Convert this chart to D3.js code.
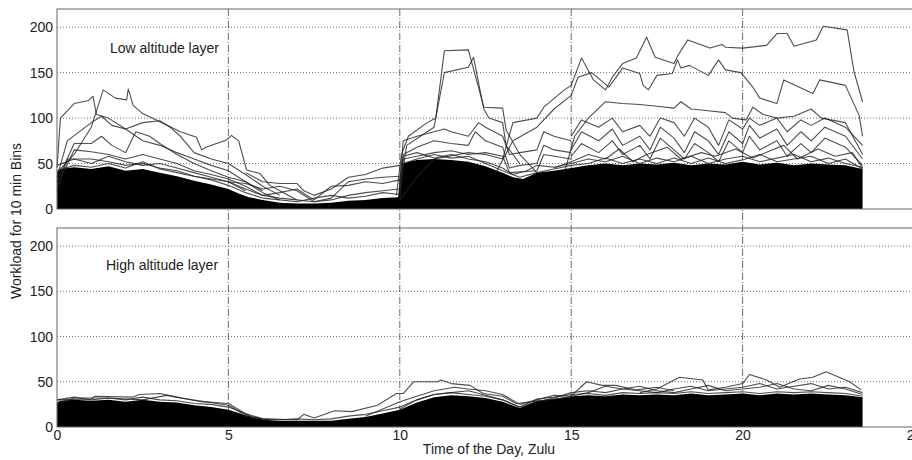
<!DOCTYPE html>
<html>
<head>
<meta charset="utf-8">
<script src="https://cdn.jsdelivr.net/npm/d3@7"></script>
<style>
  body { margin: 0; background: #fff; }
  text { font-family: "Liberation Sans", Arial, sans-serif; }
</style>
</head>
<body>
<div id="chart"></div>
<script>
'use strict'

// x ticks / y ticks
var xTicks = [0, 5, 10, 15, 20, 25]
var yTicks = [0, 50, 100, 150, 200]

// ---- low altitude layer ----
// top edge of the solid black bundle of sector curves, [hour, workload]
var lowDense = [[0,40],[0.1,44],[0.5,46],[1,44],[1.5,47],[2,42],[2.5,44],[3,40],[3.5,36],[4,31],[4.5,27],[5,22],[5.3,17],[5.6,13],[6,10],[6.5,7],[7,6],[7.5,6],[8,7],[8.5,9],[9,10],[9.5,12],[9.95,13],[10.05,50],[10.5,54],[11,55],[11.5,54],[12,52],[12.5,47],[13,40],[13.3,35],[13.6,33],[14,40],[14.5,42],[15,45],[15.5,48],[16,50],[16.5,48],[17,50],[17.5,49],[18,51],[18.5,48],[19,50],[19.5,49],[20,52],[20.5,49],[21,51],[21.5,48],[22,50],[22.5,49],[23,48],[23.5,44]]

// sector curves standing out of the bundle
var lowTop1 = [[10,10],[10.5,35],[11,55],[12,62],[12.5,60],[13,55],[13.3,95],[14,100],[14.2,112],[14.8,131],[15,136],[15.3,166],[15.65,142],[16,131],[16.2,145],[16.5,160],[16.9,166],[17.2,189],[17.45,167],[18,160],[18.1,168],[18.4,186],[19.05,177],[19.4,181],[19.5,178],[20,177],[20.7,180],[21,193],[21.3,193],[21.5,179],[22.15,186],[22.35,201],[23.05,197],[23.25,151],[23.5,118]]
var lowTop2 = [[12.8,40],[13.3,75],[14,90],[14.5,110],[15,125],[15.2,145],[15.6,150],[16.1,134],[16.5,155],[17,149],[17.1,136],[17.25,131],[17.5,147],[17.95,149],[18.1,164],[18.2,155],[18.45,158],[19,147],[19.3,164],[19.5,153],[19.95,150],[20.3,134],[20.5,122],[21,116],[21.2,142],[22.05,127],[22.25,142],[23,136],[23.4,103],[23.5,80]]
var lowTop3 = [[14.8,40],[15.1,80],[15.5,100],[16,118],[16.5,116],[17,115],[17.5,113],[18,111],[18.2,118],[18.5,110],[19,108],[19.5,106],[19.7,100],[20.1,98],[20.3,112],[20.6,104],[21,100],[21.5,102],[22,110],[22.3,100],[23,95],[23.5,60]]
var lowNoon1 = [[9.9,15],[10.05,60],[10.25,80],[10.8,95],[11.05,100],[11.3,174],[12,175],[12.45,112],[13,111],[13.1,87],[13.5,60],[14,40]]
var lowNoon2 = [[10,20],[10.2,70],[10.8,85],[11,90],[11.3,150],[12,156],[12.15,167],[12.45,110],[12.6,100],[13,95],[13.1,70],[13.5,50]]
var lowMorn1 = [[0,45],[0.1,100],[0.5,116],[0.9,119],[1.05,124],[1.15,104],[1.5,100],[2,88],[2.5,75],[3,70],[3.5,62],[4,55],[4.5,48],[5,42],[5.5,30],[6,18],[6.5,10]]
var lowMorn2 = [[0,40],[0.5,60],[1,90],[1.35,131],[1.7,122],[2.03,120],[2.08,132],[2.22,114],[2.5,105],[3,96],[3.6,85],[4.07,79],[4.22,65],[4.34,68],[4.95,76],[5.09,81],[5.3,75],[5.53,43],[5.92,39],[6.21,26],[6.5,20],[7,10]]
var lowMorn3 = [[0,35],[0.3,75],[1,95],[1.3,102],[1.6,92],[2,88],[2.5,95],[3,97],[3.3,90],[3.6,80],[4,62],[4.5,55],[5,50],[5.5,38],[6,25],[6.5,15]]
var lowMorn4 = [[0,30],[0.5,72],[1,72],[1.3,80],[1.6,70],[2,62],[2.3,85],[2.7,80],[3,72],[3.5,60],[4,50],[4.5,42],[5,35],[5.5,30],[6,20]]
var lowMorn5 = [[0,25],[0.5,65],[1,63],[1.5,60],[2,55],[2.5,60],[3,55],[3.5,50],[4,42],[4.5,38],[5,33],[5.5,25],[6,15]]
var lowMorn6 = [[0,20],[0.3,55],[1,55],[1.5,52],[2,48],[2.5,50],[3,45],[3.5,42],[4,36],[5,30],[5.5,20]]
var lowNight1 = [[5,30],[5.5,28],[6,22],[6.5,25],[7,20],[7.5,8],[8,12],[8.5,30],[9,33],[9.5,35],[10,36]]
var lowNight2 = [[5.5,40],[6,30],[6.5,28],[7,28],[7.2,20],[7.5,15],[8,22],[8.5,35],[9,38],[9.5,45],[10,48]]
var lowNight3 = [[6,15],[6.5,18],[7,22],[7.5,10],[8,25],[8.5,26],[9,30],[9.5,28],[10,32]]
var lowDay1 = [[10,30],[10.1,75],[10.5,80],[11,85],[11.3,88],[11.5,85],[12,80],[12.3,95],[12.5,90],[13,80],[13.2,60],[13.5,62],[14,65],[14.2,85],[14.5,80],[15,75]]
var lowDay2 = [[10,25],[10.1,60],[10.5,68],[11,75],[11.5,72],[12,70],[12.2,85],[12.5,75],[13,68],[13.2,45],[13.5,48],[14,50],[14.2,70],[14.5,65],[15,62]]
var lowDay3 = [[10,20],[10.1,55],[10.5,58],[11,62],[11.5,64],[12,60],[12.5,62],[13,58],[13.2,40],[14,42],[14.2,60],[15,55]]
var lowEve1 = [[15,80],[15.3,98],[15.8,90],[16.2,100],[16.5,85],[17,92],[17.3,80],[17.6,100],[18,95],[18.3,80],[18.6,100],[19,90],[19.3,70],[19.6,98],[20,88],[20.2,100],[20.5,92],[21,100],[21.3,85],[21.7,98],[22,92],[22.4,100],[23,90],[23.5,70]]
var lowEve2 = [[15,65],[15.3,85],[15.8,75],[16.2,88],[16.5,70],[17,80],[17.3,65],[17.6,90],[18,78],[18.3,62],[18.6,85],[19,75],[19.3,60],[19.6,85],[20,72],[20.2,92],[20.5,78],[21,88],[21.3,70],[21.7,85],[22,75],[22.4,90],[23,80],[23.5,55]]
var lowEve3 = [[15,58],[15.3,72],[15.8,62],[16.2,75],[16.5,60],[17,70],[17.3,55],[17.6,78],[18,65],[18.3,55],[18.6,72],[19,62],[19.3,52],[19.6,75],[20,62],[20.2,80],[20.5,65],[21,75],[21.3,58],[21.7,72],[22,62],[22.4,78],[23,68],[23.5,48]]
var lowEve4 = [[14.5,45],[15,52],[15.5,60],[16,55],[16.4,66],[16.8,52],[17.2,60],[17.8,68],[18.2,55],[18.8,62],[19.2,58],[19.8,66],[20.3,56],[20.8,64],[21.2,70],[21.6,55],[22.2,66],[22.7,58],[23.2,62],[23.5,45]]
// curves hugging the top of the bundle
var lowEdge1 = [[0,48],[0.5,55],[1,50],[1.5,58],[2,52],[2.5,48],[3,50],[3.5,45],[4,40],[4.5,35],[5,30],[5.5,22],[6,15],[6.5,12],[7,10],[7.5,8],[8,10],[8.5,15],[9,18],[9.5,20],[10,22]]
var lowEdge2 = [[0,42],[0.5,48],[1,46],[1.5,50],[2,45],[2.5,52],[3,44],[3.5,40],[4,36],[4.5,32],[5,26],[5.5,18],[6,12],[6.5,10],[7,8],[7.5,12],[8,15],[8.5,12],[9,14],[9.5,18],[10,16]]
var lowEdge3 = [[10,15],[10.1,58],[10.5,62],[11,56],[11.5,60],[12,55],[12.5,52],[13,45],[13.3,38],[13.7,42],[14,48],[14.5,46],[15,50],[15.5,55],[16,52],[16.5,58],[17,50],[17.5,56],[18,52],[18.5,58],[19,50],[19.5,55],[20,58],[20.5,52],[21,56],[21.5,60],[22,52],[22.5,56],[23,50],[23.5,46]]
var lowEdge4 = [[10,12],[10.1,50],[10.5,55],[11,60],[11.5,56],[12,58],[12.5,50],[13,42],[13.5,35],[14,40],[14.5,44],[15,48],[15.5,50],[16,56],[16.5,50],[17,55],[17.5,50],[18,56],[18.5,50],[19,56],[19.5,50],[20,54],[20.5,60],[21,52],[21.5,55],[22,58],[22.5,50],[23,55],[23.5,44]]

// ---- high altitude layer ----
var highDense = [[0,27],[0.1,29],[0.5,30],[1,29],[1.5,30],[2,28],[2.5,30],[3,28],[3.5,27],[4,24],[4.5,22],[5,19],[5.5,13],[6,8],[6.5,7],[7,7],[7.5,7],[8,7],[8.5,9],[9,11],[9.5,15],[10,19],[10.5,27],[11,33],[11.5,35],[12,34],[12.5,32],[13,28],[13.5,21],[14,29],[14.5,31],[15,34],[15.5,35],[16,34],[16.5,36],[17,35],[17.5,36],[18,35],[18.5,37],[19,35],[19.5,36],[20,37],[20.5,35],[21,37],[21.5,36],[22,37],[22.5,36],[23,35],[23.5,33]]

var highLine1 = [[0,30],[1,31],[1.1,34],[2.2,33],[2.4,36],[3,37],[3.5,33],[4.2,28],[5,26],[5.35,18],[5.7,10],[6.2,8]]
var highLine2 = [[5.5,12],[6,9],[7,8],[7.2,14],[7.5,10],[8.1,18],[8.6,17],[9.35,24],[9.9,37],[10.1,37],[10.4,50],[11.1,50],[11.2,52],[11.5,48],[12.05,46],[12.43,37],[13,34],[13.4,26],[14.1,29],[14.96,33],[15.45,50],[15.9,46],[16.3,46],[16.9,41],[17.5,44],[18,40]]
var highLine3 = [[17,38],[17.5,42],[18.16,55],[18.84,52],[19,41],[19.5,44],[20,48],[20.2,58],[20.7,52],[21.08,44],[21.66,53],[22.05,55],[22.44,61],[23.12,50],[23.46,41]]
var highLine4 = [[0,26],[0.5,32],[1.5,32],[2.5,30],[3.2,35],[3.6,32],[4.5,27],[5,24],[5.4,15],[6,8]]
var highLine5 = [[9,12],[9.5,20],[10,28],[10.5,34],[11,40],[11.6,44],[12,42],[12.5,40],[13,36],[13.5,25],[14,30],[14.5,35],[15,34],[15.5,38],[16,45],[16.5,42],[17,40],[17.5,38],[18,42],[18.5,45],[19,40],[19.5,42],[20,44],[20.5,48],[21,42],[21.5,45],[22,48],[22.5,42],[23,44],[23.5,38]]
var highLine6 = [[10,20],[10.5,30],[11,36],[11.5,38],[12,40],[12.5,35],[13,30],[13.5,22],[14,28],[14.5,32],[15,38],[15.5,40],[16,38],[16.5,42],[17,45],[17.5,40],[18,38],[18.5,42],[19,46],[19.5,40],[20,42],[20.5,44],[21,48],[21.5,42],[22,40],[22.5,46],[23,42],[23.5,36]]
var highEdge1 = [[0,30],[0.5,33],[1,30],[1.5,32],[2,30],[2.5,33],[3,30],[3.5,29],[4,26],[4.5,25],[5,22],[5.5,15],[6,9],[6.5,8],[7,9],[7.5,8],[8,9],[8.5,12],[9,14],[9.5,18],[10,22],[10.5,30],[11,36],[11.5,38],[12,36],[12.5,34],[13,30],[13.5,22],[14,31],[14.5,33],[15,36],[15.5,37],[16,35],[16.5,38],[17,37],[17.5,38],[18,37],[18.5,39],[19,37],[19.5,38],[20,39],[20.5,37],[21,39],[21.5,38],[22,39],[22.5,38],[23,37],[23.5,34]]

var lowLines = [lowTop1, lowTop2, lowTop3, lowNoon1, lowNoon2, lowMorn1, lowMorn2, lowMorn3, lowMorn4, lowMorn5, lowMorn6,
	lowNight1, lowNight2, lowNight3, lowDay1, lowDay2, lowDay3, lowEve1, lowEve2, lowEve3, lowEve4,
	lowEdge1, lowEdge2, lowEdge3, lowEdge4]
var highLines = [highLine1, highLine2, highLine3, highLine4, highLine5, highLine6, highEdge1]

var W = 912, H = 460
var svg = d3.select("#chart").append("svg")
	.attr("width", W)
	.attr("height", H)

var x = d3.scaleLinear().domain([0, 25]).range([57, 914])

var panels = [
	{ name: "Low altitude layer", top: 9, bottom: 209, dense: lowDense, lines: lowLines, labelX: 110, labelY: 53 },
	{ name: "High altitude layer", top: 228, bottom: 427, dense: highDense, lines: highLines, labelX: 106, labelY: 270 }
]

// vertical dash-dot grid runs through both panels
svg.append("g").selectAll("line")
	.data([5, 10, 15, 20])
	.enter().append("line")
	.attr("x1", function(d){ return x(d) })
	.attr("x2", function(d){ return x(d) })
	.attr("y1", 9)
	.attr("y2", 427)
	.attr("stroke", "#444")
	.attr("stroke-width", 0.8)
	.attr("stroke-dasharray", "7,2,1,2")

panels.forEach(function(p, i){
	var y = d3.scaleLinear().domain([0, 220]).range([p.bottom, p.top])
	var g = svg.append("g")

	// horizontal dotted grid
	g.selectAll(".hgrid")
		.data([50, 100, 150, 200])
		.enter().append("line")
		.attr("class", "hgrid")
		.attr("x1", x(0))
		.attr("x2", x(25))
		.attr("y1", function(d){ return y(d) })
		.attr("y2", function(d){ return y(d) })
		.attr("stroke", "#444")
		.attr("stroke-width", 0.8)
		.attr("stroke-dasharray", "1,2")

	var line = d3.line()
		.x(function(d){ return x(d[0]) })
		.y(function(d){ return y(d[1]) })

	var area = d3.area()
		.x(function(d){ return x(d[0]) })
		.y0(y(0))
		.y1(function(d){ return y(d[1]) })

	// the solid mass of curves
	g.append("path")
		.datum(p.dense)
		.attr("d", area)
		.attr("fill", "#000")

	g.selectAll(".curve")
		.data(p.lines)
		.enter().append("path")
		.attr("class", "curve")
		.attr("d", line)
		.attr("fill", "none")
		.attr("stroke", "#222")
		.attr("stroke-opacity", 0.8)
		.attr("stroke-width", 1.1)
		.attr("stroke-linejoin", "round")

	// box
	g.append("rect")
		.attr("x", x(0))
		.attr("y", p.top)
		.attr("width", x(25) - x(0))
		.attr("height", p.bottom - p.top)
		.attr("fill", "none")
		.attr("stroke", "#666")
		.attr("stroke-width", 1)

	var ya = g.append("g")
		.attr("transform", "translate(" + x(0) + ",0)")
		.call(d3.axisLeft(y).tickValues(yTicks).tickSize(0).tickPadding(4))
	ya.select(".domain").remove()
	ya.selectAll("text").style("font-size", "14px").attr("fill", "#222")

	if (i == 1){
		var xa = g.append("g")
			.attr("transform", "translate(0," + p.bottom + ")")
			.call(d3.axisBottom(x).tickValues(xTicks).tickSize(0).tickPadding(3))
		xa.select(".domain").remove()
		xa.selectAll("text").style("font-size", "14px").attr("fill", "#222")
	}

	g.append("text")
		.attr("x", p.labelX)
		.attr("y", p.labelY)
		.style("font-size", "14px")
		.attr("fill", "#222")
		.text(p.name)
})

svg.append("text")
	.attr("transform", "translate(21,221) rotate(-90)")
	.attr("text-anchor", "middle")
	.style("font-size", "14px")
	.attr("fill", "#222")
	.text("Workload for 10 min Bins")

svg.append("text")
	.attr("x", 489)
	.attr("y", 454)
	.attr("text-anchor", "middle")
	.style("font-size", "14px")
	.attr("fill", "#222")
	.text("Time of the Day, Zulu")
</script>
</body>
</html>
